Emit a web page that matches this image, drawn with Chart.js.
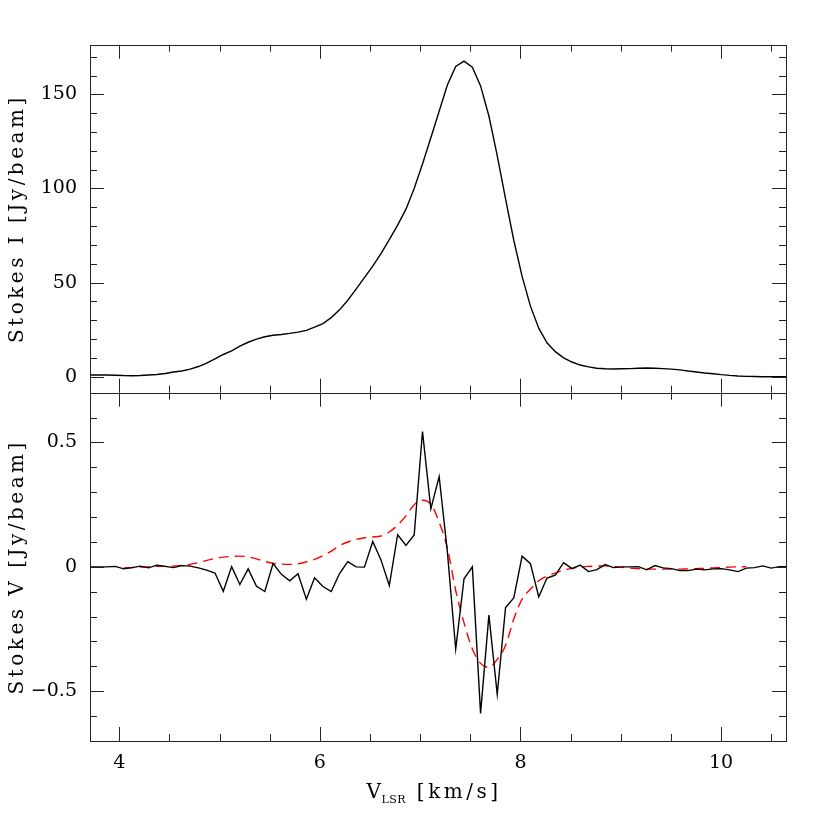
<!DOCTYPE html>
<html><head><meta charset="utf-8">
<script src="https://cdn.jsdelivr.net/npm/chart.js@4.4.0/dist/chart.umd.min.js"></script>
<style>
html,body{margin:0;padding:0;background:#fff;}
#wrap{position:relative;width:830px;height:830px;background:#fff;}
canvas{position:absolute;left:0;top:0;}
</style></head><body>
<div id="wrap"><canvas id="cI" width="830" height="830"></canvas><canvas id="cV" width="830" height="830"></canvas></div>
<script>
// channel velocities (km/s)
const velocity = [3.713,3.796,3.878,3.961,4.044,4.127,4.209,4.292,4.375,4.458,
 4.540,4.623,4.706,4.789,4.871,4.954,5.037,5.120,5.202,5.285,
 5.368,5.451,5.533,5.616,5.699,5.782,5.865,5.947,6.030,6.113,
 6.196,6.278,6.361,6.444,6.527,6.609,6.692,6.775,6.858,6.940,
 7.023,7.106,7.189,7.271,7.354,7.437,7.520,7.602,7.685,7.768,
 7.851,7.933,8.016,8.099,8.182,8.264,8.347,8.430,8.513,8.595,
 8.678,8.761,8.844,8.926,9.009,9.092,9.175,9.258,9.340,9.423,
 9.506,9.589,9.671,9.754,9.837,9.920,10.002,10.085,10.168,10.251,
 10.333,10.416,10.499,10.582,10.664];
// Stokes I (Jy/beam)
const stokesI = [0.9,0.9,0.9,0.8,0.6,0.5,0.6,0.9,1.2,1.7,
 2.5,3.0,4.0,5.4,7.2,9.5,11.8,13.7,16.2,18.3,
 20.0,21.2,22.0,22.4,23.0,23.7,24.6,26.3,28.2,31.4,
 35.5,40.6,46.5,52.6,58.8,65.4,72.8,80.5,89.0,100.0,
 113.0,127.0,141.0,155.0,164.8,167.7,164.5,154.5,138.5,117.5,
 94.5,72.5,53.3,37.5,25.8,18.0,13.3,10.0,7.8,6.2,
 5.2,4.5,4.2,4.1,4.2,4.3,4.5,4.6,4.5,4.3,
 4.0,3.6,3.0,2.5,2.0,1.6,1.1,0.7,0.4,0.2,
 0.1,0,0,0,0];
// Stokes V (Jy/beam)
const stokesV = [0,0,0,0.002,-0.008,-0.003,0.003,-0.004,0.007,0.002,
 -0.003,0.005,0.003,-0.004,-0.013,-0.025,-0.098,0.001,-0.071,-0.008,
 -0.078,-0.099,0.013,-0.030,-0.056,-0.028,-0.130,-0.044,-0.079,-0.099,
 -0.027,0.021,0.000,-0.001,0.102,0.028,-0.075,0.129,0.086,0.128,
 0.544,0.233,0.363,0.060,-0.331,-0.048,0.000,-0.589,-0.194,-0.512,
 -0.164,-0.125,0.043,0.013,-0.121,-0.045,-0.033,0.017,-0.007,0.007,
 -0.019,-0.011,0.009,-0.003,0.000,0.000,0.001,-0.012,0.005,-0.004,
 -0.007,-0.015,-0.015,-0.009,-0.012,-0.008,-0.007,-0.012,-0.019,-0.005,
 -0.003,0.004,-0.005,0.001,0.001];
// model fit of Stokes V (Jy/beam)
const modelV = [null,null,null,null,-0.004,-0.003,-0.001,0.001,0.002,0.002,
 0.003,0.006,0.010,0.017,0.026,0.034,0.039,0.042,0.043,0.040,
 0.032,0.022,0.014,0.011,0.010,0.012,0.020,0.030,0.045,0.063,
 0.085,0.100,0.110,0.117,0.120,0.124,0.140,0.168,0.205,0.250,
 0.268,0.252,0.180,0.075,-0.095,-0.225,-0.330,-0.388,-0.404,-0.372,
 -0.316,-0.210,-0.130,-0.090,-0.056,-0.037,-0.025,-0.014,-0.006,-0.001,
 0.002,0.003,0.004,0.002,-0.002,-0.005,-0.007,-0.009,-0.009,-0.009,
 -0.009,-0.009,-0.008,-0.007,-0.006,-0.004,-0.003,-0.001,0.000,0.001,
 null,null,null,null,null];

const xTicks = [4, 6, 8, 10];
const iTicks = [0, 50, 100, 150];
const vTicks = [-0.5, 0, 0.5];

const X_MIN = 3.708, X_MAX = 10.647;
const FONT = 'DejaVu Serif';

const frameTicks = {
  id: 'frameTicks',
  afterDatasetsDraw(chart, args, o) {
    const {ctx, chartArea: a, scales: {x, y}} = chart;
    ctx.save();
    ctx.strokeStyle = '#222';
    ctx.lineWidth = 1;
    ctx.beginPath();
    const isMaj = (v, s) => Math.abs(v / s - Math.round(v / s)) < 1e-6;
    for (let i = Math.ceil(X_MIN / 0.5); i * 0.5 <= X_MAX; i++) {
      const v = i * 0.5;
      const len = isMaj(v, 2) ? 14 : 7;
      const p = Math.round(x.getPixelForValue(v)) + 0.5;
      ctx.moveTo(p, a.top); ctx.lineTo(p, a.top + len);
      ctx.moveTo(p, a.bottom); ctx.lineTo(p, a.bottom - len);
    }
    for (let i = Math.ceil(y.min / o.minor - 1e-9); i * o.minor <= y.max + 1e-9; i++) {
      const v = i * o.minor;
      const len = isMaj(v, o.major) ? 14 : 7;
      const p = Math.round(y.getPixelForValue(v)) + 0.5;
      ctx.moveTo(a.left, p); ctx.lineTo(a.left + len, p);
      ctx.moveTo(a.right, p); ctx.lineTo(a.right - len, p);
    }
    ctx.stroke();
    ctx.strokeRect(Math.round(a.left) + 0.5, Math.round(a.top) + 0.5,
      Math.round(a.right) - Math.round(a.left), Math.round(a.bottom) - Math.round(a.top));
    ctx.restore();
  }
};

const titles = {
  id: 'titles',
  afterDraw(chart, args, o) {
    const {ctx, chartArea: a} = chart;
    ctx.save();
    ctx.fillStyle = '#000';
    ctx.font = '20px "' + FONT + '"';
    if ('letterSpacing' in ctx) ctx.letterSpacing = '3.5px';
    ctx.translate(18, (a.top + a.bottom) / 2);
    ctx.rotate(-Math.PI / 2);
    ctx.textAlign = 'center';
    ctx.textBaseline = 'middle';
    ctx.fillText(o.yTitle, 0, 0);
    ctx.restore();
    if (o.xTitle) {
      ctx.save();
      ctx.fillStyle = '#000';
      ctx.textBaseline = 'alphabetic';
      ctx.textAlign = 'left';
      const hasLS = 'letterSpacing' in ctx;
      const big = '20px "' + FONT + '"', small = '11px "' + FONT + '"';
      ctx.font = big; if (hasLS) ctx.letterSpacing = '3.5px';
      const w1 = ctx.measureText(o.xTitle[0]).width;
      const w3 = ctx.measureText(o.xTitle[2]).width;
      ctx.font = small; if (hasLS) ctx.letterSpacing = '0.5px';
      const w2 = ctx.measureText(o.xTitle[1]).width;
      let x0 = 435 - (w1 + w2 + w3) / 2;
      const base = 798;
      ctx.font = big; if (hasLS) ctx.letterSpacing = '3.5px';
      ctx.fillText(o.xTitle[0], x0, base); x0 += w1 - 3;
      ctx.font = small; if (hasLS) ctx.letterSpacing = '0.5px';
      ctx.fillText(o.xTitle[1], x0, base + 5); x0 += w2 + 1;
      ctx.font = big; if (hasLS) ctx.letterSpacing = '3.5px';
      ctx.fillText(o.xTitle[2], x0, base);
      ctx.restore();
    }
  }
};

const tickFont = {family: FONT, size: 19};

new Chart(document.getElementById('cI'), {
  type: 'line',
  data: {datasets: [{
    data: velocity.map((v, i) => ({x: v, y: stokesI[i]})),
    borderColor: '#000', borderWidth: 1.4, pointRadius: 0, tension: 0, fill: false
  }]},
  options: {
    responsive: false, animation: false, devicePixelRatio: 1,
    layout: {padding: {top: 44.7, right: 44, bottom: 437.3, left: 0}},
    plugins: {legend: {display: false}, tooltip: {enabled: false},
      frameTicks: {minor: 10, major: 50},
      titles: {yTitle: 'Stokes I [Jy/beam]'}},
    scales: {
      x: {type: 'linear', min: X_MIN, max: X_MAX, display: false},
      y: {type: 'linear', min: -8.5, max: 176.4,
        afterFit(s) { s.width = 90; },
        afterBuildTicks(s) { s.ticks = iTicks.map(v => ({value: v})); },
        grid: {display: false, drawTicks: false}, border: {display: false},
        ticks: {padding: 13, color: '#000', font: tickFont}}
    }
  },
  plugins: [frameTicks, titles]
});

new Chart(document.getElementById('cV'), {
  type: 'line',
  data: {datasets: [
    {data: velocity.map((v, i) => ({x: v, y: stokesV[i]})),
     borderColor: '#000', borderWidth: 1.4, pointRadius: 0, tension: 0, fill: false},
    {data: velocity.map((v, i) => ({x: v, y: modelV[i]})),
     borderColor: '#ff0000', borderWidth: 1.4, borderDash: [10, 6], pointRadius: 0,
     cubicInterpolationMode: 'monotone', fill: false, spanGaps: false}
  ]},
  options: {
    responsive: false, animation: false, devicePixelRatio: 1,
    layout: {padding: {top: 392.7, right: 44, bottom: 0, left: 0}},
    plugins: {legend: {display: false}, tooltip: {enabled: false},
      frameTicks: {minor: 0.1, major: 0.5},
      titles: {yTitle: 'Stokes V [Jy/beam]', xTitle: ['V', 'LSR', ' [km/s]']}},
    scales: {
      x: {type: 'linear', min: X_MIN, max: X_MAX,
        afterFit(s) { s.height = 89; },
        afterBuildTicks(s) { s.ticks = xTicks.map(v => ({value: v})); },
        grid: {display: false, drawTicks: false}, border: {display: false},
        ticks: {padding: 11, color: '#000', font: tickFont, maxRotation: 0}},
      y: {type: 'linear', min: -0.7, max: 0.7,
        afterFit(s) { s.width = 90; },
        afterBuildTicks(s) { s.ticks = vTicks.map(v => ({value: v})); },
        grid: {display: false, drawTicks: false}, border: {display: false},
        ticks: {padding: 13, color: '#000', font: tickFont,
          callback: v => v < 0 ? '\u2212' + Math.abs(v) : String(v)}}
    }
  },
  plugins: [frameTicks, titles]
});
</script>
</body></html>
